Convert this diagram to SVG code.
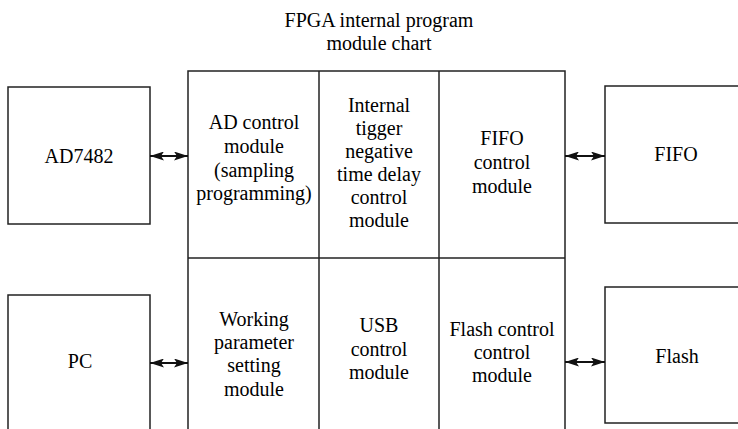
<svg xmlns="http://www.w3.org/2000/svg" width="738" height="429" viewBox="0 0 738 429">
<style>
.b{fill:#fff;stroke:#222;stroke-width:1.5}
.l{fill:none;stroke:#222;stroke-width:1.5}
.c{stroke:#111;stroke-width:2;fill:none;marker-start:url(#ah);marker-end:url(#ah)}
text{font-family:"Liberation Serif","Times New Roman",serif;font-size:20px;fill:#000;text-anchor:middle}
</style>
<defs>
<marker id="ah" viewBox="0 0 14 9" refX="14" refY="4.5" markerWidth="14" markerHeight="9" markerUnits="userSpaceOnUse" orient="auto-start-reverse">
<path d="M0,0 L14,4.5 L0,9 L3,4.5 Z" fill="#111"/>
</marker>
</defs>
<rect width="738" height="429" fill="#fff"/>
<g id="title" font-family="Liberation Serif, serif">
<text x="379" y="27">FPGA internal program</text>
<text x="379" y="50">module chart</text>
</g>
<g id="fpga">
<rect class="b" x="188" y="71" width="377" height="380"/>
<line class="l" x1="188" y1="258" x2="565" y2="258"/>
<line class="l" x1="319" y1="71" x2="319" y2="440"/>
<line class="l" x1="439" y1="71" x2="439" y2="440"/>
</g>
<g id="ad-control">
<text x="254" y="129">AD control</text>
<text x="254" y="153">module</text>
<text x="254" y="176.5">(sampling</text>
<text x="254" y="200">programming)</text>
</g>
<g id="trigger">
<text x="379" y="111.5">Internal</text>
<text x="379" y="134.5">tigger</text>
<text x="379" y="157.5">negative</text>
<text x="379" y="180.5">time delay</text>
<text x="379" y="204">control</text>
<text x="379" y="227">module</text>
</g>
<g id="fifo-control">
<text x="502" y="145">FIFO</text>
<text x="502" y="169">control</text>
<text x="502" y="193">module</text>
</g>
<g id="working">
<text x="254" y="326">Working</text>
<text x="254" y="349">parameter</text>
<text x="254" y="372">setting</text>
<text x="254" y="395.5">module</text>
</g>
<g id="usb">
<text x="379" y="332">USB</text>
<text x="379" y="355.5">control</text>
<text x="379" y="378.5">module</text>
</g>
<g id="flash-control">
<text x="502" y="336">Flash control</text>
<text x="502" y="359">control</text>
<text x="502" y="382">module</text>
</g>
<g id="ad7482">
<rect class="b" x="8" y="87" width="142" height="137"/>
<text x="79" y="163">AD7482</text>
</g>
<g id="pc">
<rect class="b" x="8" y="295" width="142" height="150"/>
<text x="80" y="368">PC</text>
</g>
<g id="fifo">
<rect class="b" x="605" y="86" width="150" height="137"/>
<text x="676" y="161">FIFO</text>
</g>
<g id="flash">
<rect class="b" x="605" y="287" width="150" height="136"/>
<text x="677" y="363">Flash</text>
</g>
<g id="connectors">
<line class="c" x1="150" y1="156" x2="188" y2="156"/>
<line class="c" x1="565" y1="156" x2="605" y2="156"/>
<line class="c" x1="150" y1="363" x2="188" y2="363"/>
<line class="c" x1="565" y1="362" x2="605" y2="362"/>
</g>
</svg>
